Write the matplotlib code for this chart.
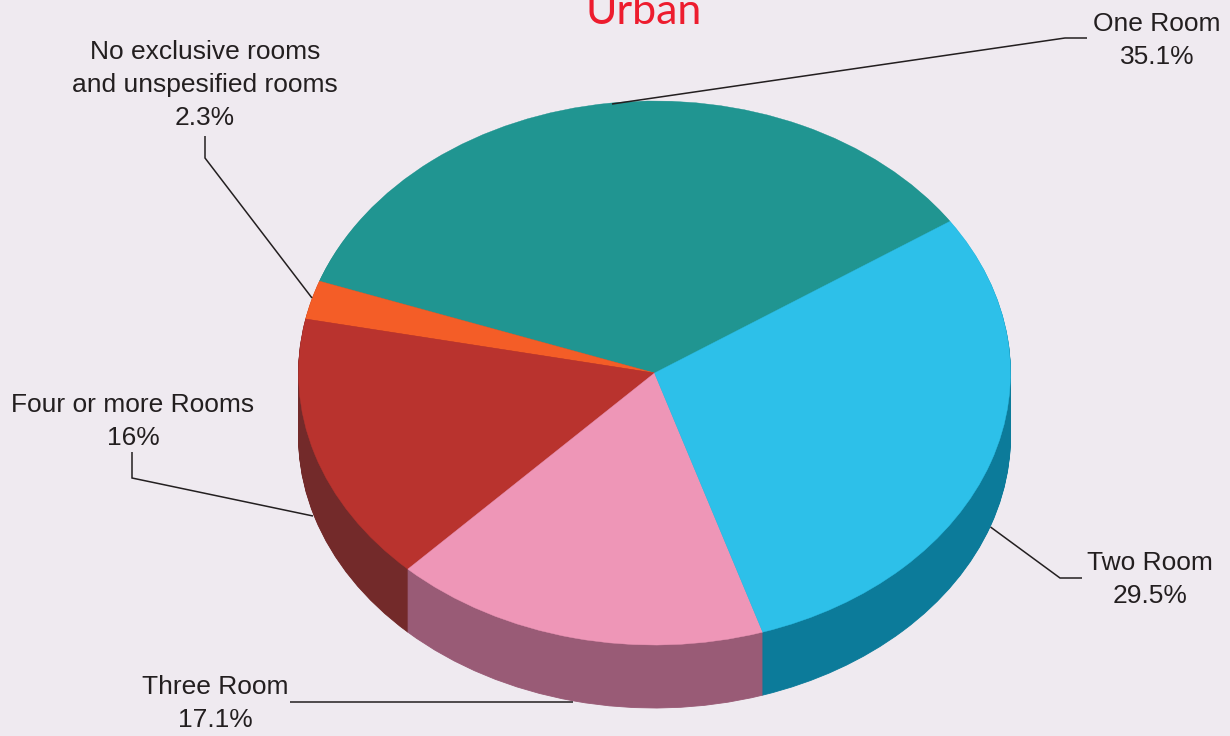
import numpy as np
import matplotlib
matplotlib.use("Agg")
import matplotlib.pyplot as plt

categories = ["One Room", "No exclusive rooms\nand unspesified rooms", "Four or more Rooms", "Three Room", "Two Room"]
values = [35.1, 2.3, 16, 17.1, 29.5]
value_labels = ["35.1%", "2.3%", "16%", "17.1%", "29.5%"]
top_colors = ["#209591", "#F45D27", "#B9332E", "#EE96B7", "#2DC0E9"]
side_colors = ["#14605D", "#9E3C19", "#732A2A", "#995B76", "#0C7B9A"]

BG = "#EFEAF0"
TXT = "#231F20"
W, H = 1230, 736
CX, CY, RX, RY, DEPTH = 654.5, 373, 356, 272, 63
START = 33.9

plt.rcParams["font.family"] = ["Liberation Sans", "DejaVu Sans"]
fig = plt.figure(figsize=(W / 100, H / 100), dpi=100, facecolor=BG)
ax = fig.add_axes([0, 0, 1, 1])
ax.set_facecolor(BG)

# side wall: the same pie repeated downward, darker
for d in np.arange(DEPTH, 0, -1.0):
    ax.pie(values, colors=side_colors, startangle=START, counterclock=True, center=(0, -d / RY),
           radius=1, frame=False, wedgeprops=dict(linewidth=0.6, edgecolor=None, antialiased=True),
           normalize=True)
    for p in ax.patches[-len(values):]:
        p.set_edgecolor(p.get_facecolor())

ax.pie(values, colors=top_colors, startangle=START, counterclock=True, center=(0, 0),
       radius=1, frame=False, wedgeprops=dict(linewidth=0.3))
for p in ax.patches[-len(values):]:
    p.set_edgecolor(p.get_facecolor())

ax.set_aspect("auto")
ax.set_xlim(-CX / RX, (W - CX) / RX)
ax.set_ylim((CY - H) / RY, CY / RY)
ax.axis("off")

# overlay in pixel coordinates for labels and leader lines
ov = fig.add_axes([0, 0, 1, 1], facecolor="none")
ov.set_xlim(0, W)
ov.set_ylim(H, 0)
ov.axis("off")

leaders = [
    ([612, 1065, 1087], [104, 38, 38]),
    ([205, 205, 312], [136, 158, 298]),
    ([132, 132, 313], [452, 478, 516]),
    ([290, 573], [702, 702]),
    ([990.5, 1060, 1082], [527, 578, 578]),
]
for xs, ys in leaders:
    ov.plot(xs, ys, color=TXT, lw=1.1, solid_joinstyle="miter", solid_capstyle="butt")

label_pos = [(1157, 31), (205, 59), (133, 412), (215, 694), (1150, 570)]
LINE = 33
for name, val, (x, y) in zip(categories, value_labels, label_pos):
    lines = name.split("\n") + [val]
    for i, t in enumerate(lines):
        ov.text(x, y + i * LINE, t, ha="center", va="baseline", fontsize=19, color=TXT)

ov.text(643.5, 24, "Urban", ha="center", va="baseline", fontsize=31, color="#ED1C2E", family="Lato")

fig.savefig("out.png", dpi=100, facecolor=BG)
